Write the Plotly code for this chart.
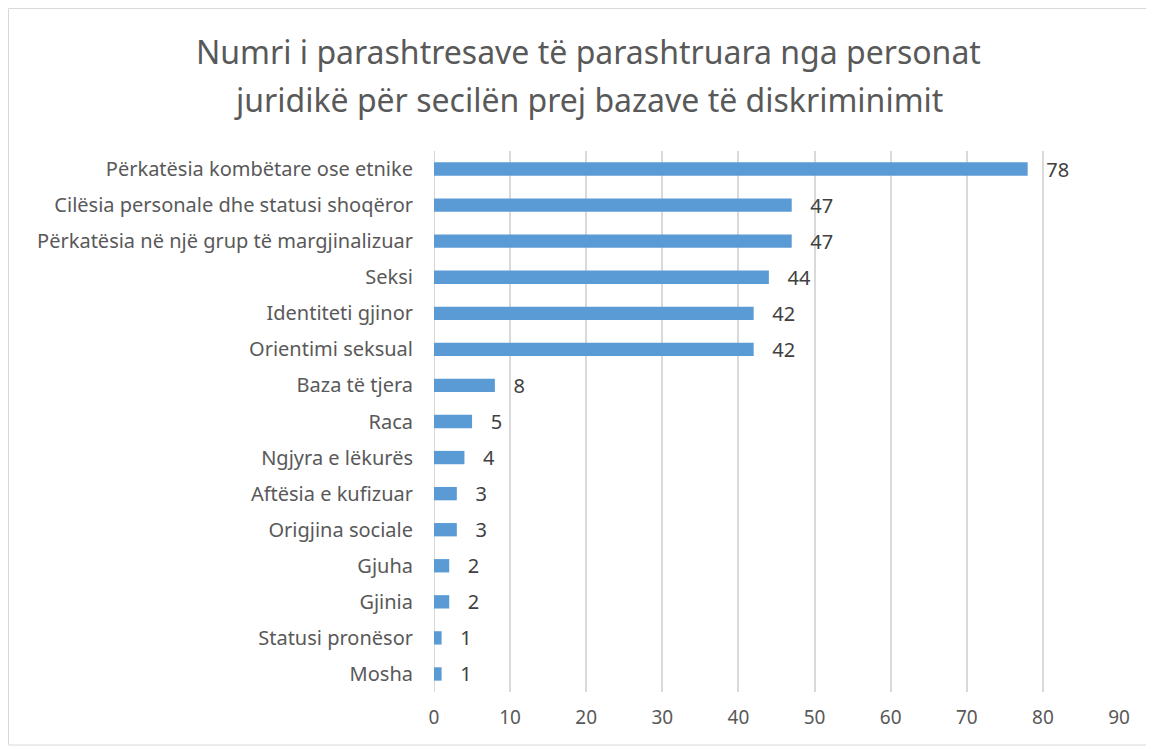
import plotly.graph_objects as go

# Data (bottom-to-top order for horizontal bars)
categories = [
    "Mosha",
    "Statusi pronësor",
    "Gjinia",
    "Gjuha",
    "Origjina sociale",
    "Aftësia e kufizuar",
    "Ngjyra e lëkurës",
    "Raca",
    "Baza të tjera",
    "Orientimi seksual",
    "Identiteti gjinor",
    "Seksi",
    "Përkatësia në një grup të margjinalizuar",
    "Cilësia personale dhe statusi shoqëror",
    "Përkatësia kombëtare ose etnike",
]
values = [1, 1, 2, 2, 3, 3, 4, 5, 8, 42, 42, 44, 47, 47, 78]
x_ticks = [0, 10, 20, 30, 40, 50, 60, 70, 80, 90]
title_lines = [
    "Numri i parashtresave të parashtruara nga personat",
    "juridikë për secilën prej bazave të diskriminimit",
]

FONT = "Noto Sans"
TEXT = "#595959"

# page body has an 8px margin, so the figure is sized to fit inside it
W, H = 1146, 741
L, R, T, B = 426, 35, 143, 57
PW, PH = W - L - R, H - T - B

fig = go.Figure(
    go.Bar(
        x=values,
        y=categories,
        orientation="h",
        marker=dict(color="#5B9BD5", line_width=0),
        text=values,
        texttemplate="\u00a0\u00a0\u00a0%{text}",
        textposition="outside",
        constraintext="none",
        textfont=dict(size=20, color="#404040", family=FONT),
        cliponaxis=False,
    )
)

# title as two annotations so the line spacing matches
for line, py in zip(title_lines, [44, 92]):
    fig.add_annotation(
        text=line,
        xref="paper",
        yref="paper",
        x=(580 - L) / PW,
        y=(T + PH - py) / PH,
        xanchor="center",
        yanchor="middle",
        showarrow=False,
        font=dict(size=32, color=TEXT, family=FONT),
    )

fig.update_layout(
    width=W,
    height=H,
    margin=dict(l=L, r=R, t=T, b=B),
    paper_bgcolor="white",
    plot_bgcolor="white",
    bargap=0.63,
    showlegend=False,
    font=dict(family=FONT, color=TEXT),
    xaxis=dict(
        range=[0, 90],
        tickvals=x_ticks,
        showgrid=True,
        gridcolor="#D9D9D9",
        gridwidth=2,
        zeroline=False,
        showline=False,
        tickfont=dict(size=19, color=TEXT),
        ticklabelstandoff=12,
    ),
    yaxis=dict(
        showgrid=False,
        showline=False,
        tickfont=dict(size=20, color=TEXT),
        ticks="",
        ticklabelstandoff=20,
        range=[-0.5, 14.5],
    ),
    shapes=[
        dict(
            type="rect",
            xref="paper",
            yref="paper",
            x0=(0.5 - L) / PW,
            x1=(1143 - L) / PW,
            y0=(PH + T - 737) / PH,
            y1=(PH + T - 0.5) / PH,
            line=dict(color="#D9D9D9", width=1),
            layer="below",
        ),
        dict(
            type="line",
            xref="x",
            yref="paper",
            x0=0, x1=0, y0=0, y1=1,
            line=dict(color="#D9D9D9", width=2),
            layer="below",
        ),
    ],
)

fig.write_html("out.html")
